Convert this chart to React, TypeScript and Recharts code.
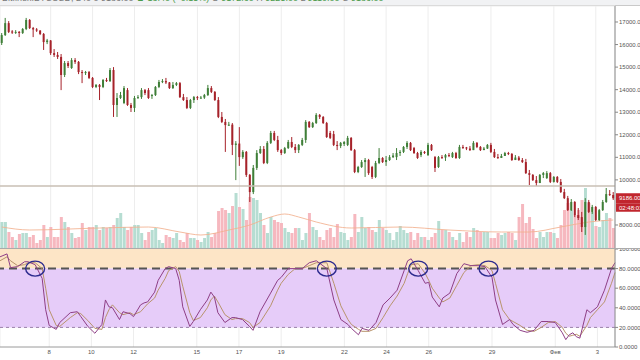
import React from 'react';
import {
  ComposedChart, Bar, Line, XAxis, YAxis, CartesianGrid,
  ReferenceLine, ReferenceArea, ReferenceDot, Cell,
} from 'recharts';

const FONT = "Arial, 'Liberation Sans', sans-serif";

// ---- 4h candles (BTCUSD) ----
const opens = [
  16070,16420,16950,16580,16530,16560,16510,16690,17090,16730,
  16670,16620,16470,16110,16180,15620,15540,15450,14650,15180,
  14960,15310,15230,14780,14740,14780,14520,14120,14210,14120,
  14430,14380,14870,13320,13630,13410,13980,13320,13190,13630,
  13670,13980,13980,13720,13760,14120,14340,14380,14320,14070,
  14210,14290,13670,13540,13190,13540,13670,13630,13650,13760,
  14070,13900,13540,12790,12570,12430,12450,11550,11610,11010,
  11240,10220,9460,10530,11190,11370,10750,11640,12080,11770,
  11320,11190,11410,11680,11460,11320,11550,11770,12570,12340,
  12520,12880,12790,12520,12080,12030,11550,11500,11590,11550,
  11860,11320,10350,10570,10790,10880,10570,10130,10750,10970,
  10790,10880,11010,11010,11190,11240,11460,11640,11410,11190,
  11100,11240,11100,11550,11010,10570,11010,10990,11100,11010,
  11190,10970,11460,11440,11390,11320,11640,11460,11320,11390,
  11550,11240,11010,10970,11060,11190,11150,10880,10990,10880,
  10790,10300,10220,9990,9860,10220,10080,10300,9910,10130,
  9910,9460,9190,8660,9020,8440,8350,7910,9020,8580,
  8800,8220,8660,9020,9370,9330,
];
const highs = [
  16510,17180,17040,16640,16640,16600,16730,17180,17130,16780,
  16730,16640,16510,16250,16200,15800,15670,15580,15270,15270,
  15400,15400,15270,14870,14830,14830,14560,14250,14250,14470,
  14520,14960,15000,13850,13900,14160,14070,13410,13720,13760,
  14070,14030,14070,13810,14160,14430,14470,14520,14340,14340,
  14340,14340,13810,13670,13590,13720,13720,13720,13810,14210,
  14160,13940,13670,13010,12700,12570,12520,11720,12340,11320,
  11280,10260,10660,11320,11500,11500,11720,12170,12170,11950,
  11370,11460,11770,11900,11590,11590,11860,12650,12610,12570,
  12960,12920,12830,12570,12170,12170,11720,11680,11720,11950,
  11900,11370,10620,10880,10970,10930,10620,10840,11410,11010,
  11060,11100,11190,11410,11320,11500,11720,11680,11460,11240,
  11320,11280,11640,11590,11060,11060,11100,11150,11190,11240,
  11240,11550,11550,11460,11500,11720,11680,11500,11460,11590,
  11640,11370,11150,11150,11240,11240,11190,11100,11060,10970,
  10930,10440,10260,10170,10260,10350,10390,10350,10170,10170,
  10040,9600,9290,9150,9060,8750,8580,9190,9110,8890,
  8840,8710,9110,9640,9550,9460,
];
const lows = [
  15980,16380,16510,16470,16470,16330,16470,16640,16690,16330,
  16560,16420,15760,16020,15540,15450,15360,13980,14560,14960,
  14920,15140,14690,14290,14650,14470,14070,14070,13540,14070,
  14340,14340,12790,12790,13590,13360,13280,13010,13010,13590,
  13590,13760,13590,13590,13720,14070,14290,14250,14030,14030,
  14160,13630,13500,13140,13140,13410,13540,13590,13590,13720,
  13850,13500,12740,12520,11240,12390,11100,9990,10620,10930,
  10130,9020,9370,10440,11150,10700,10700,11590,11720,11240,
  11100,11150,11370,11410,11190,11190,11500,11640,12300,12300,
  12480,12700,12480,11860,11810,11500,11320,11410,11500,11500,
  11280,10300,10300,10530,10130,10220,10040,10080,10700,10750,
  10620,10840,10970,10880,11060,11190,11370,11280,11150,10930,
  11010,11150,11060,11280,10350,10530,10930,10840,11010,10970,
  10930,10930,11370,11320,11280,11320,11410,11280,11320,11370,
  11190,10970,10930,10970,11060,11100,10840,10880,10840,10750,
  10260,9770,9950,9730,9860,10080,10040,9860,9880,9860,
  9420,9150,8620,8620,8350,8220,7690,7560,8530,8490,
  8180,8180,8620,8980,9290,9110,
];
const closes = [
  16420,16950,16560,16530,16560,16510,16690,17090,16730,16670,
  16620,16470,16110,16180,15620,15540,15450,14650,15180,15050,
  15310,15230,14780,14740,14780,14520,14120,14210,14120,14430,
  14380,14870,13320,13630,13760,14070,13320,13190,13630,13670,
  13980,13850,13630,13760,14120,14340,14380,14320,14070,14210,
  14290,13670,13540,13190,13540,13670,13630,13650,13760,14070,
  13900,13540,12790,12570,12430,12450,11550,11610,11010,11240,
  10220,9460,10530,11190,11370,10750,11640,12080,11770,11320,
  11190,11410,11680,11460,11320,11550,11770,12570,12340,12520,
  12880,12790,12520,11900,11860,11550,11500,11640,11680,11860,
  11320,10350,10570,10790,10880,10300,10130,10750,10970,10790,
  10880,11010,11080,11190,11240,11460,11640,11320,11190,10970,
  11240,11190,11550,11320,10530,11010,10990,11100,11080,11190,
  10970,11460,11440,11390,11320,11640,11460,11320,11390,11550,
  11240,11010,10970,11060,11190,11150,10880,10990,10880,10790,
  10300,10220,9990,9860,10220,10300,10300,9910,10130,9910,
  9460,9190,8660,9020,8440,8310,7910,9020,8580,8800,
  8220,8660,9020,9370,9330,9186,
];
const volumes = [
  2600,2600,1600,1100,800,1400,1500,1500,1100,1300,
  500,800,2300,1100,2100,1100,1100,3100,2600,2100,
  1500,1000,1100,2500,1800,2100,2100,2300,1800,2100,
  2000,2100,2300,3000,3500,2100,1800,2100,2300,2300,
  1500,800,1600,1800,2000,800,500,1300,1100,1000,
  1500,800,600,1500,1000,1000,800,600,1000,1600,
  1100,1500,3700,4000,3800,3500,4200,5500,4100,3900,
  2800,5100,5000,4800,3500,2300,1500,3100,2800,2600,
  2500,2000,1600,1500,2000,2000,800,1500,3500,2100,
  1800,1100,800,1800,2000,1100,2400,1600,1500,800,
  1100,3400,1600,3100,2000,2100,1800,1600,2800,2000,
  1800,1500,800,1600,2200,1800,1500,1600,800,1500,
  1100,1100,800,1100,1500,2700,1800,1800,1600,1100,
  800,1500,600,1600,1100,2000,1800,1600,1600,1600,
  1000,1000,1500,1300,1500,1600,1500,800,3100,4400,
  2500,3100,1900,1000,1600,1100,1600,1600,1500,1000,
  2300,3800,4500,3800,3300,3800,4800,6000,4500,3600,
  2200,2100,2800,3500,3000,2000,
];

// volume moving average, read at sampled candles
const volMaIdx = [0, 8, 28, 42, 51, 57, 65, 71, 77, 81, 85, 90, 100, 114, 128, 143, 151, 160, 168, 175];
const volMaVal = [2100, 1800, 2000, 2100, 1600, 1300, 1800, 2300, 3100, 3400, 3100, 2600, 2000, 2100, 1800, 1600, 1600, 2100, 2600, 2800];

// stochastic %K / %D, read at sampled candles
const stochIdx = [
  0,2,3,5,7,8,10,12,13,14, 16,17,20,22,23,25,27,29,30,31,
  32,34,35,37,38,40,41,42,44,45, 47,48,50,51,52,54,55,57,59,60,
  61,62,64,66,67,69,71,72,74,77, 79,80,82,84,86,88,90,93,95,97,
  99,100,102,103,105,107,109,111,113,115, 116,117,119,121,122,123,125,126,128,130,
  132,134,136,138,140,141,143,145,146,148, 150,152,154,156,158,160,161,162,163,164,
  165,167,168,170,172,174,175,
];
const stochK = [
  92,95,81,82,87,87,84,70,38,22, 18,25,35,36,31,21,14,23,48,41,
  40,28,36,34,31,43,45,46,56,68, 80,82,80,68,41,21,26,38,48,56,
  51,35,25,30,30,28,21,17,36,55, 68,71,80,80,80,86,88,80,48,28,
  23,19,12.5,19,17,25,43,50,58,78, 88,90,78,65,66,51,41,50,55,75,
  85,83,83,82,71,48,23,28,23,17, 15,17,26,26,25,14.5,7.5,12.5,14.5,10.5,
  9,38,35,41,58,80,86,
];
const stochD = [
  88,92,88,83,84,86,86,80,60,38, 22,21,30,35,34,27,19,18,30,38,
  43,35,33,35,33,36,40,44,50,58, 70,78,82,77,62,35,27,30,40,48,
  52,46,33,28,29,29,25,20,25,42, 58,65,74,80,80,83,86,86,65,42,
  28,23,18,16,16,19,30,42,52,65, 75,84,85,75,68,60,50,46,50,63,
  76,83,84,83,78,65,38,28,26,22, 17,16,20,25,26,20,14,11,12,13,
  11,22,30,38,46,65,76,
];

const tickIdx = [14, 26, 38, 56, 68, 80, 98, 110, 122, 140, 158, 170];
const tickLabels = ['8', '10', '12', '15', '17', '19', '22', '24', '26', '29', 'Фев', '3'];
const priceTicks = [8000, 9000, 10000, 11000, 12000, 13000, 14000, 15000, 16000, 17000];
const priceDomain = [6980, 17709];
const volDomain = [0, 24200];
const stochTicks = [0, 20, 40, 60, 80, 100];
const circleIdx = [10, 93, 119, 139];
const levelPrice = 9730;
const lastPrice = 9186;
const countdown = '02:48:01';

const GREEN = '#3f7f38';
const RED = '#a6222a';
const VOL_UP = '#b6ddd2';
const VOL_DOWN = '#f6b8bf';

// the price tag covers the axis label nearest to the last price
const visiblePriceTicks = priceTicks.filter((t) => Math.abs(t - lastPrice) > 400);

const rows = opens.map((o, i) => {
  const kPos = stochIdx.indexOf(i);
  const mPos = volMaIdx.indexOf(i);
  return {
    i,
    o,
    h: highs[i],
    l: lows[i],
    c: closes[i],
    range: [lows[i], highs[i]],
    v: volumes[i],
    up: closes[i] >= o,
    ma: mPos >= 0 ? volMaVal[mPos] : null,
    k: kPos >= 0 ? stochK[kPos] : null,
    d: kPos >= 0 ? stochD[kPos] : null,
  };
});

const Candle = (props: any) => {
  const { x, y, width, height, payload } = props;
  if (!payload || x == null || y == null) return null;
  const { o, h, l, c } = payload;
  const top = Math.min(y, y + height);
  const hh = Math.abs(height);
  const color = c >= o ? GREEN : RED;
  const ppu = h === l ? 0 : hh / (h - l);
  const yTop = top + (h - Math.max(o, c)) * ppu;
  const yBot = top + (h - Math.min(o, c)) * ppu;
  const cx = x + width / 2;
  return (
    <g>
      <line x1={cx} x2={cx} y1={top} y2={top + hh} stroke={color} strokeWidth={1} />
      <rect x={x} y={yTop} width={width} height={Math.max(1, yBot - yTop)} fill={color} />
    </g>
  );
};

const PriceTag = (props: any) => {
  const vb = props.viewBox || {};
  const x = (vb.x || 0) + (vb.width || 0) + 1;
  const y = vb.y || 0;
  return (
    <g>
      <rect x={x} y={y - 5} width={30} height={10} fill="#c1262e" />
      <text x={x + 3} y={y + 2.2} fontSize={6} fill="#fff" fontFamily={FONT}>{lastPrice.toFixed(2)}</text>
      <rect x={x} y={y + 5} width={30} height={8.5} fill="#c1262e" />
      <text x={x + 3} y={y + 11.4} fontSize={6} fill="#fff" fontFamily={FONT}>{countdown}</text>
    </g>
  );
};

const Ellipse = (props: any) => {
  const { cx, cy } = props;
  if (cx == null || cy == null) return null;
  return <ellipse cx={cx} cy={cy} rx={9.5} ry={7.5} fill="none" stroke="#2c2a8e" strokeWidth={1.4} />;
};

const axisTick = { fontSize: 6, fill: '#555', fontFamily: FONT };

export default function App() {
  return (
    <div style={{ position: 'absolute', left: 0, top: 0, width: 640, height: 360, background: '#fff', overflow: 'hidden', fontFamily: FONT }}>
      {/* header strip */}
      <div style={{ position: 'absolute', left: 0, top: 0, width: 640, height: 5, background: '#f1f2f4', borderBottom: '1px solid #c9c9c9', overflow: 'hidden' }}>
        <div style={{ position: 'absolute', left: 2, top: -7, fontSize: 9, whiteSpace: 'nowrap', color: '#777' }}>
          Bitfinex:BTCUSD, 240 0 9186.00 <span style={{ color: '#4a9a4a' }}>▲ 13.40 (+0.15%)</span> O <span style={{ color: '#4a9a4a' }}>9172.60</span> H <span style={{ color: '#4a9a4a' }}>9225.00</span> L <span style={{ color: '#4a9a4a' }}>9110.00</span> C <span style={{ color: '#4a9a4a' }}>9186.00</span>
        </div>
      </div>

      {/* volume layer + grid */}
      <div style={{ position: 'absolute', left: 0, top: 0 }}>
        <ComposedChart width={640} height={249} data={rows} margin={{ top: 6, right: 25, bottom: 1, left: 0 }} barCategoryGap="12%">
          <CartesianGrid stroke="#ededed" yAxisId="price" />
          <XAxis dataKey="i" ticks={tickIdx} interval={0} hide />
          <YAxis yAxisId="price" domain={priceDomain} ticks={priceTicks} interval={0} hide />
          <YAxis yAxisId="vol" domain={volDomain} hide />
          <Bar yAxisId="vol" dataKey="v" isAnimationActive={false}>
            {rows.map((r) => (
              <Cell key={r.i} fill={r.up ? VOL_UP : VOL_DOWN} />
            ))}
          </Bar>
          <Line yAxisId="vol" dataKey="ma" type="monotone" stroke="#f2b08e" strokeOpacity={0.85} strokeWidth={1} dot={false} connectNulls isAnimationActive={false} />
        </ComposedChart>
      </div>

      {/* price layer */}
      <div style={{ position: 'absolute', left: 0, top: 0 }}>
        <ComposedChart width={640} height={249} data={rows} margin={{ top: 6, right: 0, bottom: 1, left: 0 }} barCategoryGap="20%">
          <XAxis dataKey="i" hide />
          <YAxis
            yAxisId="price"
            orientation="right"
            width={25}
            domain={priceDomain}
            ticks={visiblePriceTicks}
            interval={0}
            tick={axisTick}
            tickSize={3}
            tickMargin={1}
            tickLine={{ stroke: '#888' }}
            axisLine={{ stroke: '#8a8a8a' }}
            tickFormatter={(v: number) => v.toFixed(2)}
          />
          <ReferenceLine yAxisId="price" y={levelPrice} stroke="#c9bfb5" strokeWidth={1.5} />
          <Bar yAxisId="price" dataKey="range" shape={<Candle />} isAnimationActive={false} />
          <ReferenceLine yAxisId="price" y={lastPrice} stroke="none" label={<PriceTag />} />
        </ComposedChart>
      </div>

      {/* pane separator */}
      <div style={{ position: 'absolute', left: 0, top: 248, width: 640, height: 1, background: '#ababab' }} />

      {/* stochastic pane */}
      <div style={{ position: 'absolute', left: 0, top: 249 }}>
        <ComposedChart width={640} height={111} data={rows} margin={{ top: 0, right: 0, bottom: 0, left: 0 }}>
          <CartesianGrid stroke="#ededed" horizontal={false} />
          <XAxis
            dataKey="i"
            ticks={tickIdx}
            interval={0}
            height={13}
            tickSize={0}
            tickMargin={3}
            tick={axisTick}
            axisLine={{ stroke: '#9a9a9a' }}
            tickFormatter={(v: number) => tickLabels[tickIdx.indexOf(v)] ?? ''}
          />
          <YAxis
            orientation="right"
            width={25}
            domain={[0, 100]}
            ticks={stochTicks}
            interval={0}
            tick={axisTick}
            tickSize={3}
            tickMargin={1}
            tickLine={{ stroke: '#888' }}
            axisLine={{ stroke: '#8a8a8a' }}
            tickFormatter={(v: number) => v.toFixed(4)}
          />
          <ReferenceArea y1={80} y2={100} fill="#fde5c6" fillOpacity={1} stroke="none" />
          <ReferenceArea y1={20} y2={80} fill="#e6ccf9" fillOpacity={1} stroke="none" />
          <ReferenceLine y={20} stroke="#9a80a8" strokeDasharray="3 3" strokeWidth={1} />
          <ReferenceLine y={80} stroke="#555" strokeDasharray="8 5" strokeWidth={2} />
          <Line dataKey="d" type="linear" stroke="#b8946c" strokeWidth={1} dot={false} connectNulls isAnimationActive={false} />
          <Line dataKey="k" type="linear" stroke="#8e3f86" strokeWidth={1} dot={false} connectNulls isAnimationActive={false} />
          {circleIdx.map((ci) => (
            <ReferenceDot key={ci} x={ci} y={80} r={8} shape={<Ellipse />} />
          ))}
        </ComposedChart>
      </div>
    </div>
  );
}
